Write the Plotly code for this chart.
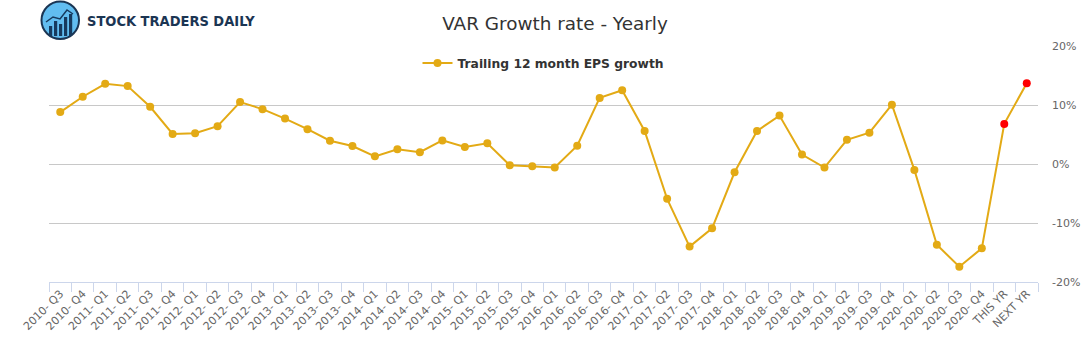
import plotly.graph_objects as go

categories = ["2010- Q3", "2010- Q4", "2011- Q1", "2011- Q2", "2011- Q3", "2011- Q4",
              "2012- Q1", "2012- Q2", "2012- Q3", "2012- Q4", "2013- Q1", "2013- Q2",
              "2013- Q3", "2013- Q4", "2014- Q1", "2014- Q2", "2014- Q3", "2014- Q4",
              "2015- Q1", "2015- Q2", "2015- Q3", "2015- Q4", "2016- Q1", "2016- Q2",
              "2016- Q3", "2016- Q4", "2017- Q1", "2017- Q2", "2017- Q3", "2017- Q4",
              "2018- Q1", "2018- Q2", "2018- Q3", "2018- Q4", "2019- Q1", "2019- Q2",
              "2019- Q3", "2019- Q4", "2020- Q1", "2020- Q2", "2020- Q3", "2020- Q4",
              "THIS YR", "NEXT YR"]
eps_growth = [8.8, 11.4, 13.6, 13.2, 9.7, 5.1,
              5.2, 6.4, 10.5, 9.3, 7.7, 5.9,
              3.95, 3.05, 1.3, 2.5, 2.0, 4.0,
              2.9, 3.5, -0.2, -0.4, -0.6, 3.1,
              11.2, 12.5, 5.6, -5.9, -14.0, -10.9,
              -1.4, 5.6, 8.2, 1.6, -0.6, 4.1,
              5.3, 10.05, -1.0, -13.7, -17.4, -14.3,
              6.8, 13.7]
estimate_flags = [False] * 42 + [True, True]
y_ticks = [-20, -10, 0, 10, 20]
y_tick_labels = ["-20%", "-10%", "0%", "10%", "20%"]

GOLD = "#e3aa15"
marker_colors = ["#ff0000" if f else GOLD for f in estimate_flags]

W, H = 1091, 350
L, R, T, B = 49, 1038, 46, 282


def px(x):
    return (x - L) / (R - L)


def py(y):
    return (B - y) / (B - T)


fig = go.Figure()
fig.add_trace(go.Scatter(
    x=categories, y=eps_growth, mode="lines+markers",
    name="Trailing 12 month EPS growth",
    line=dict(color=GOLD, width=2),
    marker=dict(color=marker_colors, size=8),
))

shapes = []
# logo icon
shapes.append(dict(type="circle", xref="paper", yref="paper",
                   x0=px(41.5), x1=px(79), y0=py(39), y1=py(1.5),
                   line=dict(color="#1b3553", width=2), fillcolor="#62bdf0", layer="above"))
for bx, btop in [(49, 26), (54, 21), (59, 24), (64, 17), (69, 14)]:
    shapes.append(dict(type="rect", xref="paper", yref="paper",
                       x0=px(bx), x1=px(bx + 3.2), y0=py(36), y1=py(btop),
                       line=dict(width=0), fillcolor="#173a5e", layer="above"))
shapes.append(dict(type="path", xref="paper", yref="paper",
                   path=f"M {px(46)} {py(22)} L {px(53)} {py(17)} L {px(60)} {py(19)} L {px(67)} {py(10)} L {px(73)} {py(14)}",
                   line=dict(color="#173a5e", width=1.5), layer="above"))

fig.update_layout(
    width=W, height=H,
    margin=dict(l=L, r=W - R, t=T, b=H - B, pad=0, autoexpand=False),
    paper_bgcolor="white", plot_bgcolor="white",
    font=dict(family="DejaVu Sans", color="#333333"),
    title=dict(text="VAR Growth rate - Yearly", x=0.5087, xanchor="center",
               y=1 - 24 / H, yanchor="middle",
               font=dict(size=18.4, color="#333333", family="DejaVu Sans")),
    showlegend=True,
    legend=dict(orientation="h", x=0.5, xanchor="center", y=py(63), yanchor="middle",
                font=dict(size=12.3, color="#333333", weight="bold"),
                bgcolor="rgba(0,0,0,0)", itemwidth=30),
    xaxis=dict(type="category", tickangle=-45, tickson="boundaries", automargin=False,
               showline=True, linecolor="#ccd6eb", linewidth=1,
               ticks="outside", ticklen=9, tickcolor="#ccd6eb",
               showgrid=False, zeroline=False,
               tickfont=dict(size=11, color="#666666"),
               range=[-0.5, len(categories) - 0.5], fixedrange=True),
    yaxis=dict(side="right", range=[-20, 20], tickvals=y_ticks, ticktext=y_tick_labels,
               automargin=False,
               showgrid=True, gridcolor="#c8c8c8", gridwidth=1, zeroline=False,
               showline=False, ticks="", ticklabelstandoff=13,
               tickfont=dict(size=11, color="#666666")),
    shapes=shapes,
    annotations=[dict(text="STOCK TRADERS DAILY", xref="paper", yref="paper",
                      x=px(85), y=py(21), xanchor="left", yanchor="middle",
                      showarrow=False,
                      font=dict(family="DejaVu Sans Condensed", size=14.5, weight="bold",
                                color="#1b3553"))],
)

fig.write_html("out.html")
